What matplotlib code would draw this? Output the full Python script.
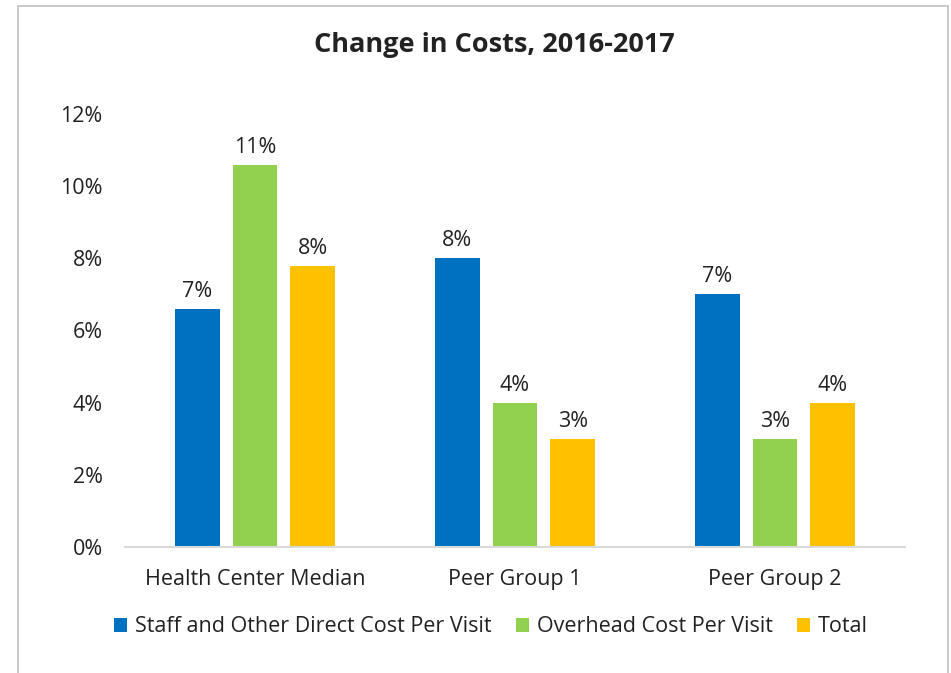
import numpy as np
import matplotlib.pyplot as plt
from matplotlib.patches import Rectangle

# Chart data
groups = ['Health Center Median', 'Peer Group 1', 'Peer Group 2']
series = ['Staff and Other Direct Cost Per Visit', 'Overhead Cost Per Visit', 'Total']
staff = [6.6, 8.0, 7.0]
overhead = [10.6, 4.0, 3.0]
total = [7.8, 3.0, 4.0]
colors = ['#0070C0', '#92D050', '#FFC000']
yticks = [0, 2, 4, 6, 8, 10, 12]

plt.rcParams['font.family'] = ['Open Sans', 'DejaVu Sans']

fig = plt.figure(figsize=(9.51, 6.73), dpi=100)
ax = fig.add_axes([125 / 951, 126 / 673, 780 / 951, 433 / 673])

x = np.arange(len(groups))
width = 0.173
offset = 0.223
for i, (vals, name, c) in enumerate(zip([staff, overhead, total], series, colors)):
    bars = ax.bar(x + (i - 1) * offset, vals, width, color=c, label=name, zorder=2)
    for b, v in zip(bars, vals):
        ax.annotate(f'{v:.0f}%', (b.get_x() + b.get_width() / 2, v),
                    xytext=(0, 5), textcoords='offset points',
                    ha='center', va='bottom', fontsize=15.5, color='#222222')

ax.set_xlim(-0.5, 2.5)
ax.set_ylim(0, 12)
ax.set_yticks(yticks)
ax.set_yticklabels([f'{t}%' for t in yticks])
ax.set_xticks(x)
ax.set_xticklabels(groups)
ax.tick_params(axis='both', length=0, labelsize=15.5, colors='#222222')
ax.tick_params(axis='y', pad=16)
ax.tick_params(axis='x', pad=16)
for s in ['top', 'right', 'left']:
    ax.spines[s].set_visible(False)
ax.spines['bottom'].set_color('#D9D9D9')
ax.spines['bottom'].set_linewidth(1.5)

fig.text(494 / 951, 1 - 45 / 673, 'Change in Costs, 2016-2017', ha='center', va='center',
         fontsize=19.5, fontweight='bold', color='#222222')

fig.legend(loc='center', bbox_to_anchor=(491 / 951, 1 - 627 / 673), ncol=3, frameon=False,
           fontsize=15.5, handlelength=0.6, handleheight=0.6, handletextpad=0.35,
           columnspacing=1.15, labelcolor='#222222')

# outer chart border
fig.patches.append(Rectangle((18 / 951, -0.02), 930 / 951, 1.02 - 6 / 673, transform=fig.transFigure,
                             fill=False, edgecolor='#BFBFBF', linewidth=1.2))

fig.savefig('out.png', dpi=100)
